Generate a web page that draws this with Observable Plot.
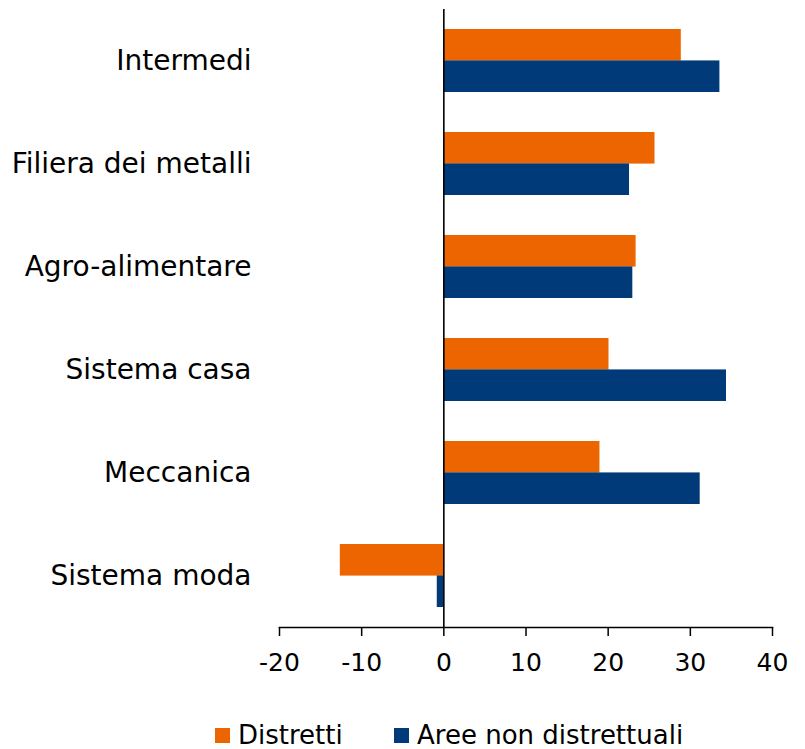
<!DOCTYPE html>
<html>
<head>
<meta charset="utf-8">
<script src="https://cdn.jsdelivr.net/npm/d3@7"></script>
<script src="https://cdn.jsdelivr.net/npm/@observablehq/plot@0.6"></script>
<style>
  body { margin: 0; background: #fff; font-family: "DejaVu Sans", sans-serif; }
  #wrap { position: relative; width: 805px; height: 749px; overflow: hidden; }
  #chart svg { display: block; }
  .item { position: absolute; top: 721px; height: 28px; display: flex; align-items: center; font-size: 26px; color: #000; white-space: nowrap; }
  .sw { width: 15px; height: 15px; margin-right: 8px; flex: none; }
</style>
</head>
<body>
<div id="wrap">
  <div id="chart"></div>
  <div id="legend"></div>
</div>
<script>
const categories = ["Intermedi", "Filiera dei metalli", "Agro-alimentare", "Sistema casa", "Meccanica", "Sistema moda"];
const distretti = [28.9, 25.7, 23.4, 20.1, 19.0, -12.6];
const areeNonDistrettuali = [33.6, 22.6, 23.0, 34.4, 31.2, -0.8];
const seriesNames = ["Distretti", "Aree non distrettuali"];
const seriesColors = ["#ec6500", "#003a78"];
const xTicks = [-20, -10, 0, 10, 20, 30, 40];

const rows = categories.map((c, i) => ({category: c, d: distretti[i], a: areeNonDistrettuali[i]}));

const W = 805, H = 705, mT = 9, mB = 78, mL = 279, mR = 33;
const pIn = 0.39, pOut = 0.195;
const step = (H - mT - mB) / (categories.length - pIn + 2 * pOut);
const half = step * (1 - pIn) / 2;

const chart = Plot.plot({
  width: W, height: H,
  marginTop: mT, marginBottom: mB, marginLeft: mL, marginRight: mR,
  style: {fontFamily: "DejaVu Sans, sans-serif", background: "white", color: "#000"},
  x: {domain: [-20, 40], label: null},
  y: {domain: categories, paddingInner: pIn, paddingOuter: pOut, label: null},
  marks: [
    Plot.barX(rows, {y: "category", x: "d", fill: seriesColors[0], insetBottom: half}),
    Plot.barX(rows, {y: "category", x: "a", fill: seriesColors[1], insetTop: half}),
    Plot.ruleX([0], {stroke: "#000", strokeWidth: 1.6}),
    Plot.frame({anchor: "bottom", stroke: "#000", strokeWidth: 1.5}),
    Plot.axisX({ticks: xTicks, tickSize: 9, tickPadding: 17, fontSize: 25, label: null, stroke: "#000", strokeWidth: 1.5, tickFormat: d => d}),
    Plot.axisY({tickSize: 0, tickPadding: 28, fontSize: 28, label: null})
  ]
});
document.getElementById("chart").appendChild(chart);

const legend = document.getElementById("legend");
const lefts = [215, 394];
seriesNames.forEach((name, i) => {
  const it = document.createElement("div");
  it.className = "item";
  it.style.left = lefts[i] + "px";
  const sw = document.createElement("span");
  sw.className = "sw";
  sw.style.background = seriesColors[i];
  const tx = document.createElement("span");
  tx.textContent = name;
  it.appendChild(sw); it.appendChild(tx);
  legend.appendChild(it);
});
</script>
</body>
</html>
